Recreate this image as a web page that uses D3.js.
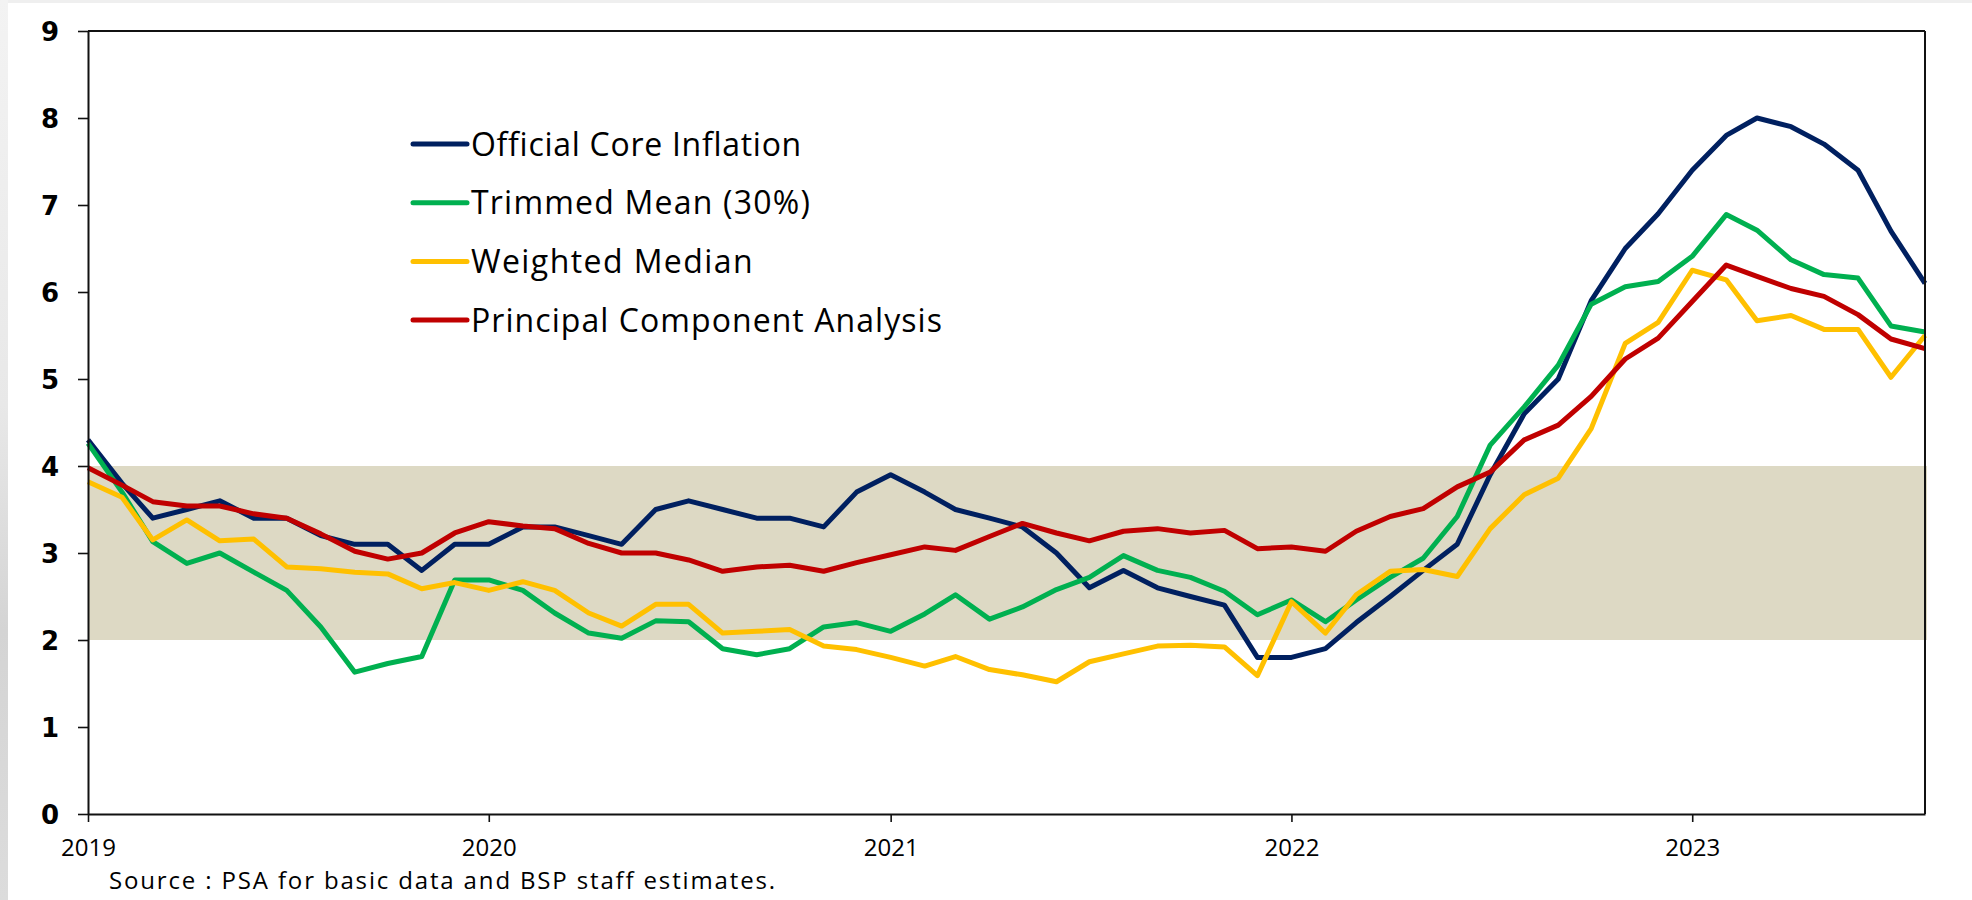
<!DOCTYPE html>
<html>
<head>
<meta charset="utf-8">
<script src="https://cdn.jsdelivr.net/npm/d3@7/dist/d3.min.js"></script>
<style>
  html, body { margin: 0; padding: 0; background: #ffffff; }
  svg { display: block; }
</style>
</head>
<body>
<svg id="chart" width="1972" height="900"></svg>
<script>
// ---------------- DATA ----------------
const startMonth = "2019-01";           // first observation (monthly series)
const yTickLabels = [0, 1, 2, 3, 4, 5, 6, 7, 8, 9];
const xTickLabels = ["2019", "2020", "2021", "2022", "2023"];
const targetBand = [2, 4];

const seriesNames = [
  "Official Core Inflation",
  "Trimmed Mean (30%)",
  "Weighted Median",
  "Principal Component Analysis"
];

const officialCore = [4.3, 3.8, 3.4, 3.5, 3.6, 3.4, 3.4, 3.2, 3.1, 3.1, 2.8, 3.1,
  3.1, 3.3, 3.3, 3.2, 3.1, 3.5, 3.6, 3.5, 3.4, 3.4, 3.3, 3.7,
  3.9, 3.7, 3.5, 3.4, 3.3, 3.0, 2.6, 2.8, 2.6, 2.5, 2.4, 1.8,
  1.8, 1.9, 2.2, 2.5, 2.8, 3.1, 3.9, 4.6, 5.0, 5.9, 6.5, 6.9,
  7.4, 7.8, 8.0, 7.9, 7.7, 7.4, 6.7, 6.1];

const trimmedMean = [4.26, 3.7, 3.13, 2.88, 3.0, 2.78, 2.57, 2.15, 1.63, 1.73, 1.81, 2.69,
  2.69, 2.57, 2.31, 2.08, 2.02, 2.22, 2.21, 1.9, 1.83, 1.9, 2.15, 2.2,
  2.1, 2.3, 2.52, 2.24, 2.38, 2.58, 2.72, 2.97, 2.8, 2.72, 2.56, 2.29,
  2.46, 2.21, 2.46, 2.72, 2.94, 3.42, 4.24, 4.68, 5.16, 5.86, 6.06, 6.12,
  6.41, 6.89, 6.71, 6.37, 6.2, 6.16, 5.61, 5.54];

const weightedMedian = [3.82, 3.64, 3.15, 3.38, 3.14, 3.16, 2.84, 2.82, 2.78, 2.76, 2.59, 2.66,
  2.57, 2.67, 2.57, 2.31, 2.16, 2.41, 2.41, 2.08, 2.1, 2.12, 1.93, 1.89,
  1.8, 1.7, 1.81, 1.66, 1.6, 1.52, 1.75, 1.84, 1.93, 1.94, 1.92, 1.59,
  2.44, 2.08, 2.52, 2.79, 2.81, 2.73, 3.28, 3.67, 3.86, 4.43, 5.41, 5.65,
  6.25, 6.14, 5.67, 5.73, 5.57, 5.57, 5.02, 5.5];

const principalComponent = [3.98, 3.78, 3.59, 3.54, 3.54, 3.45, 3.4, 3.22, 3.02, 2.93, 3.0, 3.23,
  3.36, 3.31, 3.28, 3.11, 3.0, 3.0, 2.92, 2.79, 2.84, 2.86, 2.79, 2.89,
  2.98, 3.07, 3.03, 3.19, 3.34, 3.23, 3.14, 3.25, 3.28, 3.23, 3.26, 3.05,
  3.07, 3.02, 3.25, 3.42, 3.51, 3.76, 3.93, 4.3, 4.47, 4.8, 5.23, 5.47,
  5.89, 6.31, 6.18, 6.04, 5.95, 5.74, 5.46, 5.35];

const sourceNote = "Source : PSA for basic data and BSP staff estimates.";

// ---------------- STYLE ----------------
const colors = ["#002060", "#00B050", "#FFC000", "#C00000"];
const bandColor = "#DDD9C4";
const margin = { left: 88, right: 1925, top: 31, bottom: 814 };

// ---------------- BUILD ----------------
const svg = d3.select("#chart");
const parse = d3.timeParse("%Y-%m");
const t0 = parse(startMonth);
const dates = officialCore.map((_, i) => d3.timeMonth.offset(t0, i));
const allSeries = [officialCore, trimmedMean, weightedMedian, principalComponent];

// background edges (slide photo remnants)
const defs = svg.append("defs");
const g1 = defs.append("linearGradient").attr("id", "edge").attr("x1", 0).attr("y1", 0).attr("x2", 0).attr("y2", 1);
g1.append("stop").attr("offset", "0").attr("stop-color", "#f3f3f3");
g1.append("stop").attr("offset", "0.45").attr("stop-color", "#e8e8e8");
g1.append("stop").attr("offset", "0.7").attr("stop-color", "#d4d4d4");
g1.append("stop").attr("offset", "1").attr("stop-color", "#dcdcdc");
svg.append("rect").attr("x", 0).attr("y", 0).attr("width", 1972).attr("height", 3).attr("fill", "#efefef");
svg.append("rect").attr("x", 0).attr("y", 0).attr("width", 8).attr("height", 900).attr("fill", "url(#edge)");

const x = d3.scaleTime().domain([dates[0], dates[dates.length - 1]]).range([margin.left, margin.right]);
const y = d3.scaleLinear().domain([yTickLabels[0], yTickLabels[yTickLabels.length - 1]]).range([margin.bottom, margin.top]);

// target band
svg.append("rect")
  .attr("x", x.range()[0])
  .attr("y", y(targetBand[1]))
  .attr("width", x.range()[1] - x.range()[0] + 2)
  .attr("height", y(targetBand[0]) - y(targetBand[1]))
  .attr("fill", bandColor);

// lines
const line = d3.line().x((d, i) => x(dates[i])).y(d => y(d));
svg.append("g").selectAll("path").data(allSeries).join("path")
  .attr("d", d => line(d))
  .attr("fill", "none")
  .attr("stroke", (d, i) => colors[i])
  .attr("stroke-width", 5)
  .attr("stroke-linejoin", "round")
  .attr("stroke-linecap", "butt");

// frame top/right
svg.append("line").attr("x1", margin.left).attr("x2", margin.right).attr("y1", margin.top).attr("y2", margin.top)
  .attr("stroke", "#111").attr("stroke-width", 2);
svg.append("line").attr("x1", margin.right).attr("x2", margin.right).attr("y1", margin.top).attr("y2", margin.bottom)
  .attr("stroke", "#111").attr("stroke-width", 2);

// y axis
const yAxis = svg.append("g").attr("transform", `translate(${margin.left},0)`)
  .call(d3.axisLeft(y).tickValues(yTickLabels).tickSize(10).tickPadding(19).tickSizeOuter(0).tickFormat(d3.format("d")));
yAxis.select(".domain").attr("stroke", "#111").attr("stroke-width", 2);
yAxis.selectAll(".tick line").attr("stroke", "#111").attr("stroke-width", 1.6);
yAxis.selectAll(".tick text")
  .attr("font-family", "'DejaVu Sans', sans-serif")
  .attr("font-weight", "bold")
  .attr("font-size", 26)
  .attr("fill", "#000")
  .attr("dy", "0.36em");

// x axis
const yearDates = xTickLabels.map(s => d3.timeParse("%Y")(s));
const xAxis = svg.append("g").attr("transform", `translate(0,${margin.bottom})`)
  .call(d3.axisBottom(x).tickValues(yearDates).tickSize(8).tickPadding(17).tickSizeOuter(0).tickFormat(d3.timeFormat("%Y")));
xAxis.select(".domain").attr("stroke", "#111").attr("stroke-width", 2);
xAxis.selectAll(".tick line").attr("stroke", "#111").attr("stroke-width", 1.6);
xAxis.selectAll(".tick text")
  .attr("font-family", "'Open Sans', sans-serif")
  .attr("font-size", 24)
  .attr("fill", "#000");

// helper: fit text width via small letter-spacing
function fitWidth(sel, target) {
  const node = sel.node();
  const w = node.getComputedTextLength();
  const n = sel.text().length;
  if (n > 1) sel.attr("letter-spacing", ((target - w) / n).toFixed(2));
}

// legend
const legendX = 413, legendY0 = 144, legendStep = 58.7;
const legendWidths = [331, 340, 283, 472];
const leg = svg.append("g");
seriesNames.forEach((name, i) => {
  const yy = legendY0 + i * legendStep;
  leg.append("line").attr("x1", legendX).attr("x2", legendX + 54).attr("y1", yy).attr("y2", yy)
    .attr("stroke", colors[i]).attr("stroke-width", 5).attr("stroke-linecap", "round");
  const t = leg.append("text").attr("x", legendX + 58).attr("y", yy + 11.5)
    .attr("font-family", "'Open Sans', sans-serif").attr("font-size", 32).attr("fill", "#000")
    .text(name);
  fitWidth(t, legendWidths[i]);
});

// source note
const src = svg.append("text").attr("x", 109).attr("y", 889)
  .attr("font-family", "'Open Sans', sans-serif").attr("font-size", 24).attr("fill", "#000")
  .text(sourceNote);
fitWidth(src, 668);
</script>
</body>
</html>
